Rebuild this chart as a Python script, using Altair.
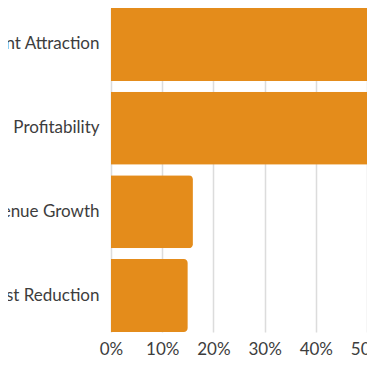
import altair as alt
import pandas as pd

categories = ["Talent Attraction", "Profitability", "Revenue Growth", "Cost Reduction"]
values = [0.68, 0.62, 0.16, 0.15]
tick_values = [0, 0.1, 0.2, 0.3, 0.4, 0.5]

df = pd.DataFrame({"category": categories, "value": values})

chart = alt.Chart(df).mark_bar(
    color="#E48C1B", cornerRadiusEnd=4
).encode(
    x=alt.X("value:Q", scale=alt.Scale(domain=[0, 0.5], nice=False, zero=True),
            axis=alt.Axis(format=".0%", values=tick_values,
                          title=None, domain=False, ticks=False, grid=True,
                          gridColor="#dcdcdc", gridWidth=1.5,
                          labelFont="Lato", labelFontSize=17, labelColor="#3d3d3d",
                          labelPadding=9, labelFlush=False, labelOverlap=False)),
    y=alt.Y("category:N", sort=categories,
            scale=alt.Scale(paddingInner=0.128, paddingOuter=0),
            axis=alt.Axis(title=None, domain=False, ticks=False,
                          labelFont="Lato", labelFontSize=17, labelColor="#3d3d3d",
                          labelPadding=12, labelLimit=400))
).properties(
    width=256, height=324,
    autosize=alt.AutoSizeParams(type="none"),
    padding={"left": 103, "right": 0, "top": 0, "bottom": 24}
).configure_view(stroke=None)

chart.save("out.html", embed_options={"renderer": "svg", "actions": False})
